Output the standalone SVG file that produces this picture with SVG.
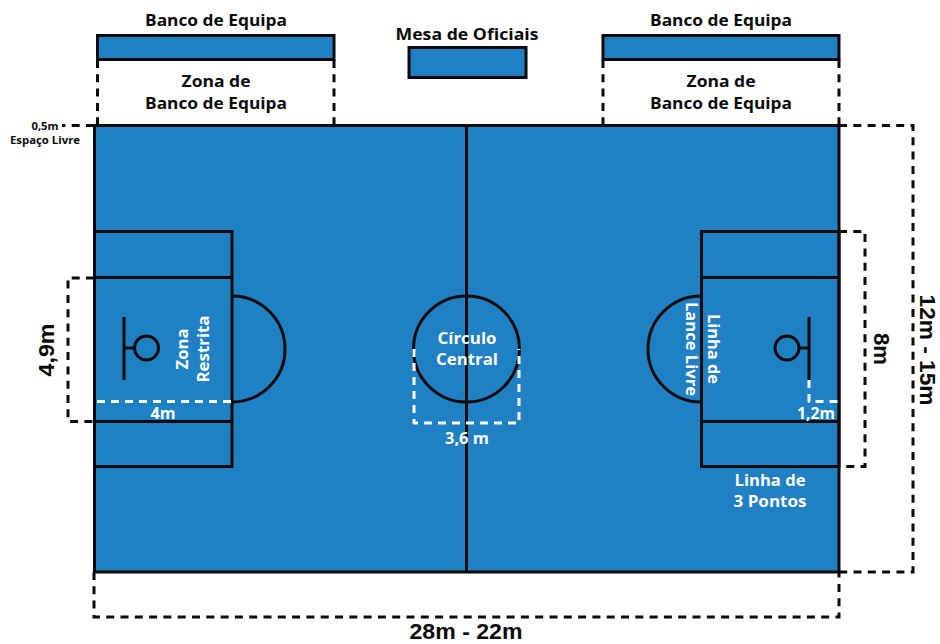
<svg xmlns="http://www.w3.org/2000/svg" width="940" height="644" viewBox="0 0 940 644">
<style>
.f{fill:#1f80c4;stroke:#0a0a0a;stroke-width:3}
.l{fill:none;stroke:#0a0a0a;stroke-width:3}
.d{fill:none;stroke:#0a0a0a;stroke-width:3;stroke-dasharray:8 6.300}
.w{fill:none;stroke:#fff;stroke-width:3;stroke-dasharray:8 6;stroke-linejoin:round}
text{font-family:"Open Sans","Noto Sans","Liberation Sans",sans-serif;font-weight:700;text-anchor:middle}
.k{fill:#0a0a0a;font-size:16px}
.t{fill:#fff;font-size:16px}
.b{fill:#0a0a0a;font-size:22px;font-family:"Liberation Sans",Arial,sans-serif}
</style>
<rect width="940" height="644" fill="#fff"/>
<g id="court">
<rect class="f" x="94.500" y="125.500" width="744.500" height="446.500"/>
<path class="l" d="M466.500 125V572"/>
<circle class="l" cx="466.500" cy="349" r="53"/>
</g>
<g id="key-left">
<rect class="l" x="94.500" y="231.500" width="137.500" height="235"/>
<path class="l" d="M94 277.500H232M94 421.500H232"/>
<path class="l" d="M232 296A53 53 0 0 1 232 402"/>
<path class="l" d="M124 317V380M124 348H134.500"/>
<circle class="l" cx="146.500" cy="348" r="12"/>
</g>
<g id="key-right">
<rect class="l" x="701.500" y="231.500" width="137.500" height="235"/>
<path class="l" d="M701 277.500H839M701 421.500H839"/>
<path class="l" d="M701 296A53 53 0 0 0 701 402"/>
<path class="l" d="M809 317V380M809 348H799"/>
<circle class="l" cx="787" cy="348" r="12"/>
</g>
<g id="bench-left"><rect class="f" x="97.500" y="35.500" width="236.500" height="24"/></g>
<g id="bench-right"><rect class="f" x="603" y="35.500" width="236" height="24"/></g>
<g id="table"><rect class="f" x="409" y="47.500" width="117" height="30"/></g>
<g id="connectors">
<path class="d" d="M97.500 60V125M334 60V125M603 60V125M839 60V125"/>
<path class="d" d="M94 125.500H62"/>
<path class="d" d="M94 278H68V421.500H94"/>
<path class="d" d="M839 231.500H865V466.500H839"/>
<path class="d" d="M839 125.500H913V572H839"/>
<path class="d" d="M94 572V617H839V572"/>
<path class="w" d="M97 401.500H232"/>
<path class="w" d="M414 349V423H519V349"/>
<path class="w" d="M809 380V401.500H839"/>
</g>
<g id="labels">
<text class="k" x="216" y="26" textLength="142" lengthAdjust="spacingAndGlyphs">Banco de Equipa</text>
<text class="k" x="721" y="26" textLength="142" lengthAdjust="spacingAndGlyphs">Banco de Equipa</text>
<text class="k" x="467" y="40" textLength="143" lengthAdjust="spacingAndGlyphs">Mesa de Oficiais</text>
<text class="k" x="216" y="87" textLength="69" lengthAdjust="spacingAndGlyphs">Zona de</text>
<text class="k" x="216" y="109" textLength="142" lengthAdjust="spacingAndGlyphs">Banco de Equipa</text>
<text class="k" x="721" y="87" textLength="69" lengthAdjust="spacingAndGlyphs">Zona de</text>
<text class="k" x="721" y="109" textLength="142" lengthAdjust="spacingAndGlyphs">Banco de Equipa</text>
<text x="45" y="130" fill="#0a0a0a" font-size="10" textLength="27" lengthAdjust="spacingAndGlyphs">0,5m</text>
<text x="45" y="144" fill="#0a0a0a" font-size="10" textLength="70" lengthAdjust="spacingAndGlyphs">Espaço Livre</text>
<text class="t" x="467" y="344" textLength="59" lengthAdjust="spacingAndGlyphs">Círculo</text>
<text class="t" x="467" y="365" textLength="62" lengthAdjust="spacingAndGlyphs">Central</text>
<text class="t" x="467" y="444" textLength="44" lengthAdjust="spacingAndGlyphs">3,6 m</text>
<text class="t" x="163" y="419" textLength="25" lengthAdjust="spacingAndGlyphs">4m</text>
<text class="t" x="816" y="419" textLength="38" lengthAdjust="spacingAndGlyphs">1,2m</text>
<text class="t" x="770" y="486" textLength="71" lengthAdjust="spacingAndGlyphs">Linha de</text>
<text class="t" x="770" y="507" textLength="73" lengthAdjust="spacingAndGlyphs">3 Pontos</text>
<text class="t" transform="translate(188 349) rotate(-90)" textLength="41" lengthAdjust="spacingAndGlyphs">Zona</text>
<text class="t" transform="translate(209 349) rotate(-90)" textLength="67" lengthAdjust="spacingAndGlyphs">Restrita</text>
<text class="t" transform="translate(708 349) rotate(90)" textLength="70" lengthAdjust="spacingAndGlyphs">Linha de</text>
<text class="t" transform="translate(686 349) rotate(90)" textLength="94" lengthAdjust="spacingAndGlyphs">Lance Livre</text>
<text class="b" transform="translate(54 350) rotate(-90)" textLength="53" lengthAdjust="spacingAndGlyphs">4,9m</text>
<text class="b" transform="translate(874 349) rotate(90)" textLength="32" lengthAdjust="spacingAndGlyphs">8m</text>
<text class="b" transform="translate(920 350) rotate(90)" textLength="111" lengthAdjust="spacingAndGlyphs">12m - 15m</text>
<text class="b" x="466" y="639" textLength="113" lengthAdjust="spacingAndGlyphs">28m - 22m</text>
</g>
</svg>
